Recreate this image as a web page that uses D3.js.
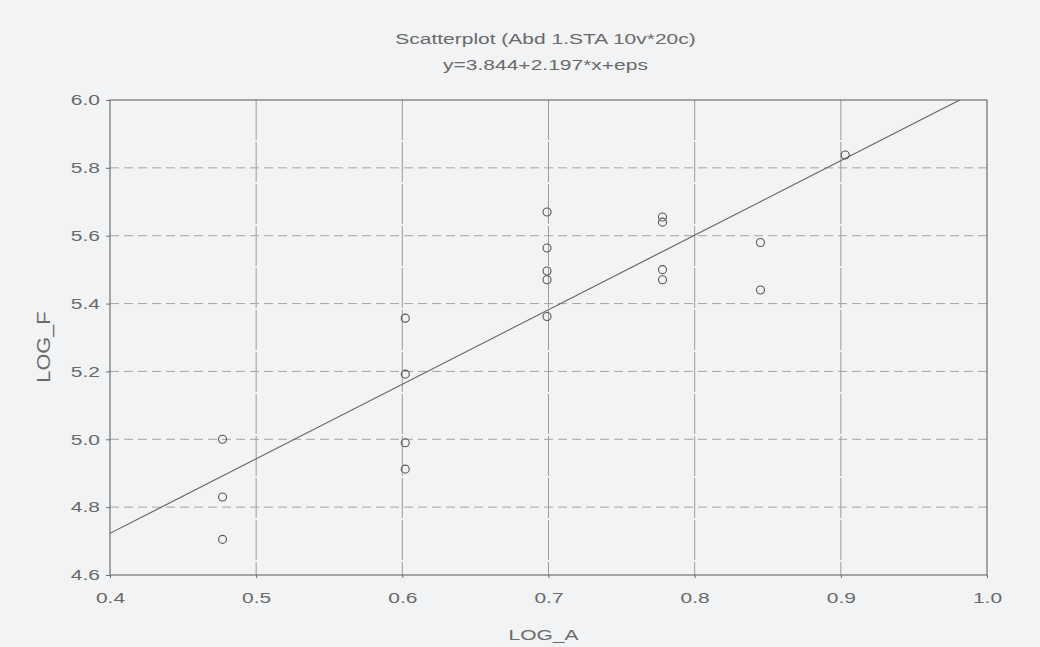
<!DOCTYPE html>
<html><head><meta charset="utf-8">
<script src="https://cdn.jsdelivr.net/npm/d3@7"></script>
<style>
html,body{margin:0;padding:0;background:#f1f3f4;}
svg{display:block;}
text{font-family:"Liberation Sans",Arial,sans-serif;fill:#6a6a6a;}
</style></head><body>
<svg id="c" width="1040" height="647"></svg>
<script>
const titleLines = ["Scatterplot (Abd 1.STA 10v*20c)", "y=3.844+2.197*x+eps"];
const xLabel = "LOG_A";
const yLabel = "LOG_F";
const xTicks = [0.4,0.5,0.6,0.7,0.8,0.9,1.0];
const yTicks = [4.6,4.8,5.0,5.2,5.4,5.6,5.8,6.0];
const logA = [0.477,0.477,0.477, 0.602,0.602,0.602,0.602, 0.699,0.699,0.699,0.699,0.699, 0.778,0.778,0.778,0.778, 0.845,0.845, 0.903];
const logF = [5.00,4.83,4.705, 5.357,5.192,4.99,4.912, 5.67,5.564,5.496,5.47,5.362, 5.655,5.64,5.5,5.47, 5.58,5.44, 5.838];
const intercept = 3.844, slope = 2.197;

const SX = 1.4; // horizontal text stretch seen in the reference
const svg = d3.select("#c");
const m = {l:110, r:1040-987, t:100, b:647-575};
const W = 1040-m.l-m.r, H = 647-m.t-m.b;
const x = d3.scaleLinear().domain([0.4,1.0]).range([m.l, m.l+W]);
const y = d3.scaleLinear().domain([4.6,6.0]).range([m.t+H, m.t]);

// grid
svg.append("g").selectAll("line").data(xTicks.slice(1,-1)).join("line")
  .attr("x1",d=>x(d)).attr("x2",d=>x(d)).attr("y1",m.t).attr("y2",m.t+H)
  .attr("stroke","#9c9c9c").attr("stroke-width",1).attr("stroke-dasharray","40,2");
svg.append("g").selectAll("line").data(yTicks.slice(1,-1)).join("line")
  .attr("x1",m.l).attr("x2",m.l+W).attr("y1",d=>y(d)).attr("y2",d=>y(d))
  .attr("stroke","#a4a4a4").attr("stroke-width",1).attr("stroke-dasharray","9,5");

// frame
svg.append("rect").attr("x",m.l).attr("y",m.t).attr("width",W).attr("height",H)
  .attr("fill","none").attr("stroke","#707070").attr("stroke-width",1.2);

// axes
const xa = svg.append("g").attr("transform",`translate(0,${m.t+H})`)
  .call(d3.axisBottom(x).tickValues(xTicks).tickFormat(d3.format(".1f")).tickSize(3).tickPadding(14));
const ya = svg.append("g").attr("transform",`translate(${m.l},0)`)
  .call(d3.axisLeft(y).tickValues(yTicks).tickFormat(d3.format(".1f")).tickSize(4).tickPadding(10));
[xa,ya].forEach(a=>{
  a.select(".domain").remove();
  a.selectAll("line").attr("stroke","#707070");
  a.selectAll("text").style("font-size","15px").attr("fill","#6a6a6a")
    .attr("transform",`scale(${SX},1)`);
});
ya.selectAll("text").attr("x",-10/SX);

// regression line clipped
svg.append("clipPath").attr("id","clip").append("rect")
  .attr("x",m.l).attr("y",m.t).attr("width",W).attr("height",H);
const xEnd = (6.0-intercept)/slope;
svg.append("line").attr("clip-path","url(#clip)")
  .attr("x1",x(0.4)).attr("y1",y(intercept+slope*0.4))
  .attr("x2",x(xEnd)).attr("y2",y(intercept+slope*xEnd))
  .attr("stroke","#686868").attr("stroke-width",1.2);

// points
svg.append("g").selectAll("circle").data(logA.map((a,i)=>[a,logF[i]])).join("circle")
  .attr("cx",d=>x(d[0])).attr("cy",d=>y(d[1])).attr("r",4)
  .attr("fill","none").attr("stroke","#555").attr("stroke-width",1.1);

// titles
const cx = (m.l + m.l + W)/2;
svg.append("g").selectAll("text").data(titleLines).join("text")
  .attr("transform",(d,i)=>`translate(${cx-3},${44+i*25.5}) scale(${SX},1)`)
  .attr("text-anchor","middle")
  .style("font-size","15px").text(d=>d);
svg.append("text").attr("transform",`translate(${cx-5},640) scale(${SX},1)`).attr("text-anchor","middle")
  .style("font-size","15px").text(xLabel);
svg.append("text").attr("transform",`translate(50,347) rotate(-90) scale(1.45,1.25)`).attr("text-anchor","middle")
  .style("font-size","15px").text(yLabel);
</script>
</body></html>
